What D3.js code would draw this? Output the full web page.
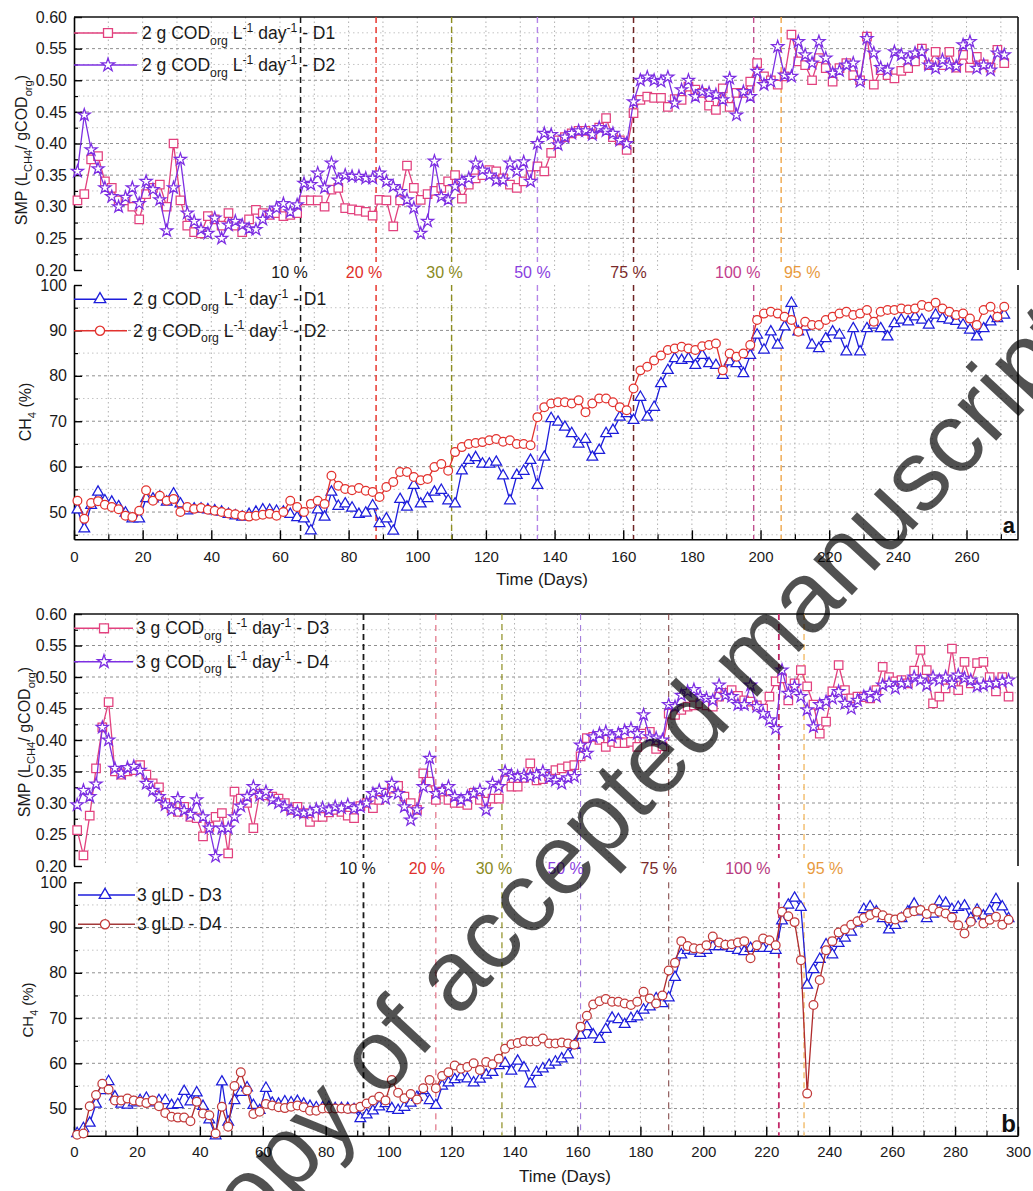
<!DOCTYPE html>
<html>
<head>
<meta charset="utf-8">
<script src="https://cdn.jsdelivr.net/npm/d3@7"></script>
<style>
  body { margin: 0; background: #fff; }
  svg { display: block; font-family: "Liberation Sans", Arial, sans-serif; }
  text { white-space: pre; }
</style>
</head>
<body>
<svg id="fig" width="1033" height="1191"></svg>
<script>
// ---------- data: reactors D1/D2 (2 g CODorg L-1 day-1) ----------
const daysA = [1,3,5,7,9,11,13,15,17,19,21,23,25,27,29,31,33,35,37,39,41,43,45,47,49,51,53,55,57,59,
  61,63,65,67,69,71,73,75,77,79,81,83,85,87,89,91,93,95,97,99,101,103,105,107,109,111,113,115,117,119,
  121,123,125,127,129,131,133,135,137,139,141,143,145,147,149,151,153,155,157,159,161,163,165,167,169,171,173,175,177,179,
  181,183,185,187,189,191,193,195,197,199,201,203,205,207,209,211,213,215,217,219,221,223,225,227,229,231,233,235,237,239,
  241,243,245,247,249,251,253,255,257,259,261,263,265,267,269,271];

const smpD1 = [0.31,0.32,0.375,0.38,0.34,0.33,0.31,0.31,0.30,0.28,
  0.32,0.33,0.335,0.30,0.40,0.31,0.27,0.26,0.258,0.285,
  0.28,0.27,0.29,0.27,0.26,0.28,0.295,0.29,0.287,0.29,
  0.285,0.287,0.29,0.31,0.31,0.31,0.30,0.327,0.33,0.298,
  0.296,0.294,0.292,0.286,0.311,0.31,0.269,0.31,0.365,0.33,
  0.311,0.32,0.325,0.33,0.34,0.35,0.313,0.335,0.345,0.35,
  0.358,0.356,0.345,0.335,0.33,0.34,0.35,0.364,0.356,0.385,
  0.405,0.41,0.416,0.42,0.42,0.415,0.425,0.44,0.41,0.405,
  0.39,0.448,0.469,0.474,0.472,0.472,0.458,0.47,0.469,0.49,
  0.485,0.48,0.46,0.453,0.487,0.458,0.48,0.48,0.498,0.527,
  0.506,0.50,0.493,0.506,0.572,0.53,0.524,0.50,0.535,0.519,
  0.498,0.519,0.527,0.508,0.50,0.569,0.493,0.516,0.508,0.503,
  0.515,0.519,0.53,0.55,0.524,0.545,0.524,0.545,0.52,0.54,
  0.52,0.537,0.525,0.52,0.548,0.527];

const smpD2 = [0.356,0.445,0.39,0.36,0.33,0.316,0.30,0.315,0.33,0.305,
  0.34,0.327,0.311,0.262,0.33,0.375,0.29,0.277,0.264,0.258,
  0.282,0.25,0.271,0.277,0.271,0.265,0.264,0.28,0.29,0.298,
  0.305,0.292,0.303,0.337,0.335,0.353,0.33,0.369,0.342,0.35,
  0.348,0.348,0.345,0.345,0.353,0.34,0.332,0.324,0.311,0.298,
  0.258,0.277,0.372,0.316,0.311,0.332,0.34,0.345,0.369,0.358,
  0.35,0.342,0.342,0.369,0.356,0.371,0.34,0.40,0.416,0.414,
  0.398,0.41,0.416,0.42,0.42,0.414,0.425,0.42,0.416,0.405,
  0.40,0.466,0.50,0.505,0.50,0.498,0.505,0.464,0.485,0.50,
  0.474,0.482,0.48,0.477,0.469,0.503,0.445,0.482,0.474,0.514,
  0.493,0.498,0.553,0.508,0.506,0.561,0.54,0.527,0.561,0.535,
  0.511,0.515,0.524,0.527,0.498,0.566,0.543,0.52,0.516,0.545,
  0.54,0.532,0.543,0.545,0.524,0.519,0.532,0.524,0.522,0.556,
  0.561,0.519,0.524,0.516,0.543,0.54];

const ch4D1 = [50.5,46.3,51.5,54.4,52.5,52.2,51.2,49.8,48.5,48.5,
  53,52.9,53.3,52.2,54,51.8,50.3,50.7,50.7,50.5,
  50.3,50,49.5,49.2,48.9,49.5,50,50.5,50.4,50.2,
  50,49.5,48.8,48.5,45.9,50.5,48.9,54.4,51.3,51.8,
  50.9,49.5,49.8,51.4,47.5,48.5,45.8,52.8,51.1,55.9,
  51.8,53,54.4,54.8,52.5,51.8,59.1,61.4,62,60.6,
  60.6,61,58,52.5,58.1,59,61.4,55.9,62.1,70.6,
  69.8,68.7,67.3,65,66,62.1,63.6,67.3,68,70.9,
  71.7,70.2,75.3,70.9,73.1,78.3,81.2,83.8,83.4,83.8,
  82.3,84.5,82.7,82.3,80.1,83.1,82.7,80.5,84.5,89,
  85.7,89.7,86.8,90.8,96,89.7,90.8,86.8,86,88.2,
  89.7,89,85.3,90.4,85.3,90.4,91.2,90.4,88.6,91.5,
  92.3,91.9,93,92.3,91.2,93.4,92.6,92.3,92,91.2,
  90.1,88.6,90.4,91.9,92.6,93.4];

const ch4D2 = [52.5,48.5,52,52.4,51.6,51.1,50.6,49.2,48.9,50.3,
  54.8,52.5,53.6,52.5,52.9,50,51.1,50.7,50.9,50.5,
  50.3,50,49.7,49.5,49.2,49,49.2,49.4,49.6,49.2,
  50,52.5,51.1,50,51.8,52.5,51.8,58,55.8,55.1,
  54.8,55.3,54.7,54.4,53.3,55.5,56.6,58.8,58.8,57.7,
  57,57.3,59.9,60.6,59.1,63.2,64.3,65,65.2,65.4,
  65.8,66.1,65.5,65.8,65,65,64.7,70.9,73.1,73.9,
  74.2,74.2,73.9,74.6,72,73.9,75,75,74.2,73.1,
  72.4,77.2,81.2,82,83.4,84.5,85.7,86,86.4,86,
  85.7,86.5,86.8,87.1,81.2,84.9,84.2,84.9,86.8,92.3,
  93.7,94.1,93.7,93,92.3,89.7,91.9,91.2,91.2,92.3,
  93,93.7,94.1,93.4,93.7,94.5,91.9,94.1,94.5,94.5,
  94.8,94.6,94.8,95.6,95.2,96.1,94.8,94.1,93.4,93.7,
  92.6,91.2,94.5,95.2,93,95.2];

// ---------- data: reactors D3/D4 (3 g CODorg L-1 day-1) ----------
const daysB = [1,3,5,7,9,11,13,15,17,19,21,23,25,27,29,31,33,35,37,39,41,43,45,47,49,51,53,55,57,59,
  61,63,65,67,69,71,73,75,77,79,81,83,85,87,89,91,93,95,97,99,101,103,105,107,109,111,113,115,117,119,
  121,123,125,127,129,131,133,135,137,139,141,143,145,147,149,151,153,155,157,159,161,163,165,167,169,171,173,175,177,179,
  181,183,185,187,189,191,193,195,197,199,201,203,205,207,209,211,213,215,217,219,221,223,225,227,229,231,233,235,237,239,
  241,243,245,247,249,251,253,255,257,259,261,263,265,267,269,271,273,275,277,279,281,283,285,287,289,291,293,295,297];

const smpD3 = [0.257,0.217,0.28,0.355,0.42,0.46,0.35,0.345,0.35,0.352,
  0.36,0.345,0.331,0.325,0.30,0.292,0.286,0.294,0.278,0.276,
  0.247,0.262,0.278,0.284,0.22,0.318,0.307,0.30,0.26,0.315,
  0.312,0.31,0.307,0.30,0.289,0.294,0.284,0.27,0.278,0.278,
  0.285,0.289,0.286,0.28,0.276,0.295,0.30,0.292,0.305,0.315,
  0.323,0.327,0.31,0.30,0.289,0.347,0.334,0.305,0.318,0.305,
  0.30,0.30,0.297,0.316,0.305,0.302,0.307,0.307,0.336,0.326,
  0.326,0.34,0.363,0.336,0.338,0.342,0.352,0.355,0.358,0.36,
  0.374,0.403,0.405,0.40,0.389,0.397,0.395,0.395,0.397,0.389,
  0.41,0.413,0.386,0.39,0.442,0.44,0.448,0.453,0.455,0.458,
  0.455,0.453,0.469,0.475,0.479,0.47,0.463,0.461,0.455,0.45,
  0.469,0.493,0.498,0.463,0.49,0.511,0.485,0.456,0.41,0.429,
  0.477,0.519,0.479,0.466,0.469,0.468,0.466,0.479,0.516,0.50,
  0.493,0.495,0.49,0.51,0.543,0.511,0.458,0.469,0.482,0.545,
  0.479,0.524,0.49,0.522,0.524,0.50,0.477,0.50,0.469];

const smpD4 = [0.297,0.32,0.31,0.33,0.42,0.40,0.355,0.347,0.356,0.358,
  0.352,0.331,0.32,0.31,0.297,0.289,0.307,0.288,0.282,0.305,
  0.278,0.26,0.215,0.26,0.26,0.278,0.295,0.31,0.326,0.312,
  0.318,0.305,0.30,0.294,0.289,0.286,0.284,0.286,0.29,0.292,
  0.289,0.294,0.292,0.297,0.291,0.294,0.30,0.315,0.32,0.307,
  0.331,0.315,0.294,0.273,0.289,0.326,0.371,0.315,0.32,0.326,
  0.31,0.305,0.31,0.315,0.32,0.289,0.331,0.326,0.35,0.344,
  0.342,0.344,0.342,0.345,0.35,0.34,0.336,0.331,0.34,0.342,
  0.392,0.379,0.405,0.41,0.413,0.405,0.41,0.415,0.418,0.41,
  0.44,0.405,0.403,0.40,0.456,0.453,0.471,0.477,0.48,0.469,
  0.466,0.463,0.487,0.471,0.469,0.456,0.456,0.487,0.453,0.442,
  0.432,0.418,0.511,0.474,0.485,0.469,0.448,0.421,0.456,0.461,
  0.466,0.477,0.458,0.45,0.463,0.469,0.474,0.469,0.487,0.49,
  0.482,0.49,0.49,0.50,0.495,0.487,0.50,0.495,0.50,0.49,
  0.503,0.498,0.495,0.485,0.487,0.49,0.49,0.493,0.495];

const ch4D3 = [44.5,45.6,46.8,51,54,56,52.6,51,50.8,51.3,
  51.8,52.3,51.3,51.8,51.8,50.7,50.9,53.8,51.5,53.5,
  50.5,47.5,44,55.9,47,51.8,53.6,54.6,50.7,49.6,
  54.5,51.2,51,51.5,51.3,51.6,51,50.5,50.2,50.2,
  50.3,50,50,50,49.8,47.8,48.6,49.5,50.4,51.1,
  50,49.6,50.3,51.2,52.5,54,51.8,50.7,55,55.7,
  56.4,57,56.6,55.7,56.5,57.4,58,59.5,60,58.3,
  60.5,59,55.5,58,58.8,59.6,60.3,61,61.9,64,
  66.2,68.1,66.3,65.3,67.5,70,69.7,68.6,69.9,70.3,
  71.8,72.5,74.3,73.2,74.5,79,84,85,84.8,84.3,
  85,85.8,85.8,85.8,85.4,85,84.7,85.4,85.4,85.4,
  85.4,85,91.5,95,96.5,94.5,77.3,80.7,83,86.2,
  84,86.5,87.7,89,91,94,94.6,93.5,92,89.5,
  90.5,92,93.5,95.2,93.5,92,93,95.7,95.4,94,
  94.5,94.8,92,93.9,92.6,93.7,96.2,94.6,92];

const ch4D4 = [44.2,44.5,50.5,53,55.5,54.2,51.8,51.8,52.2,51.8,
  51.5,51.2,51.8,50.5,49,48.2,48,48,47.2,51.5,
  48.9,48.5,44.5,50.4,46,55,58,54,48.8,49.3,
  51,50.7,50.3,50.1,50.4,50.7,50.3,49.5,49.5,50,
  50,50,50,49.9,50,50.4,51.1,51.8,52.6,51.8,
  56.3,53.5,52.3,53.2,52,54.5,56.3,54.5,57.2,58,
  59.5,58.8,59.2,60,58.5,60.3,59.8,61,63.2,64.2,
  64.5,64.9,64.8,64.8,65.5,64.4,64.4,64.6,64.4,64.1,
  68.1,70.5,73,73.7,74.2,73.6,73.6,73.2,72.9,73.6,
  75.8,74.3,73.2,75,80.5,82.2,87,85.9,85.4,85.3,
  86.1,88,86.7,86.2,86.3,86.7,87,83.2,86.1,87.6,
  87.2,86.1,93.5,92.5,91.2,82.8,53.3,72.9,78.4,85,
  87,88.9,89.6,90.6,91.4,92.1,92.8,93.3,92.7,92,
  91.8,92.3,93.2,93.6,93.9,93,94.2,93.5,93.1,92.2,
  90.5,88.7,91.3,93.5,90.9,91.7,92.4,90.6,91.7];

// ---------- phase changes (fraction of landfill leachate) ----------
const phaseLabels = ["10 %","20 %","30 %","50 %","75 %","100 %","95 %"];
const phaseDaysA = [66, 88, 110, 135, 163, 198, 206];
const phaseDaysB = [92, 115, 136, 161, 189, 224, 232];

// ---------- axis ticks ----------
const smpTicks = [0.20,0.25,0.30,0.35,0.40,0.45,0.50,0.55,0.60];
const ch4Ticks = [50,60,70,80,90,100];
const dayTicksA = [0,20,40,60,80,100,120,140,160,180,200,220,240,260];
const dayTicksB = [0,20,40,60,80,100,120,140,160,180,200,220,240,260,280,300];

// ---------- styling ----------
const X0 = 74, X1 = 1018;
const C = {
  pink: "#e2417e", purple: "#7d2fe2", blue: "#1d1ddb", red: "#e2322e",
  brownRed: "#c23a3a", brownLine: "#b02c2c"
};
const phaseLineA = ["#1a1a1a","#e8372f","#8e8e20","#b585e8","#6e2424","#c0508f","#efa64a"];
const phaseTextA = ["#1a1a1a","#df2f2a","#8a8a22","#8a40e0","#7a2a2a","#c23d8e","#e89a40"];
const phaseLineB = ["#1a1a1a","#d9526a","#8e8e20","#9a70d8","#7a3a3a","#c22868","#efb050"];
const phaseTextB = ["#1a1a1a","#e0302c","#8a8a22","#8a40e0","#7a2a2a","#b83a80","#e89a40"];

const svg = d3.select("#fig");

function rich(sel, parts, size) {
  let shift = 0;
  parts.forEach(([t, k]) => {
    const target = k === "sub" ? size * 0.32 : k === "sup" ? -size * 0.42 : 0;
    sel.append("tspan")
      .attr("dy", target - shift)
      .attr("font-size", k === "n" ? size : size * 0.7)
      .text(t);
    shift = target;
  });
}

function frame(o) {
  const x = d3.scaleLinear().domain([0, o.xMax]).range([X0, X1]);
  const y = d3.scaleLinear().domain(o.yDom).range([o.bottom, o.top]);
  const g = svg.append("g");

  // grid
  const grid = g.append("g");
  grid.selectAll(".hmaj").data(o.gridMajor).join("line")
    .attr("x1", X0).attr("x2", X1).attr("y1", d => y(d)).attr("y2", d => y(d))
    .attr("stroke", "#8f8f8f").attr("stroke-width", 1).attr("stroke-dasharray", "3,3");
  grid.selectAll(".hmin").data(o.gridMinor).join("line")
    .attr("x1", X0).attr("x2", X1).attr("y1", d => y(d)).attr("y2", d => y(d))
    .attr("stroke", "#c4c4c4").attr("stroke-width", 1).attr("stroke-dasharray", "1.5,3");
  grid.selectAll(".v").data(o.vGrid).join("line")
    .attr("x1", d => x(d)).attr("x2", d => x(d)).attr("y1", o.top).attr("y2", o.bottom)
    .attr("stroke", "#b0b0b0").attr("stroke-width", 1).attr("stroke-dasharray", "1.5,3");

  // left axis
  const la = g.append("g").attr("transform", `translate(${X0},0)`)
    .call(d3.axisLeft(y).tickValues(o.yTicks).tickFormat(o.fmt)
      .tickSize(-8).tickSizeOuter(0).tickPadding(7));
  la.attr("font-family", null).attr("font-size", 16);
  la.select(".domain").attr("stroke-width", 1.6);
  la.selectAll(".tick line").attr("stroke-width", 1.4);
  la.selectAll("text").attr("fill", "#1a1a1a");
  g.append("g").attr("transform", `translate(${X0},0)`)
    .call(d3.axisLeft(y).tickValues(o.yMinor).tickFormat("").tickSize(-4).tickSizeOuter(0))
    .call(s => s.select(".domain").remove())
    .selectAll("line").attr("stroke-width", 1.2);

  // right border
  g.append("line").attr("x1", X1).attr("x2", X1).attr("y1", o.top).attr("y2", o.bottom)
    .attr("stroke", "#111").attr("stroke-width", 1.6);

  if (o.topLine) {
    g.append("line").attr("x1", X0).attr("x2", X1).attr("y1", o.top).attr("y2", o.top)
      .attr("stroke", "#111").attr("stroke-width", 1.6);
  }
  if (o.xTicks) {
    const ba = g.append("g").attr("transform", `translate(0,${o.bottom})`)
      .call(d3.axisBottom(x).tickValues(o.xTicks).tickSize(-9).tickSizeOuter(0).tickPadding(o.xPad));
    ba.attr("font-family", null).attr("font-size", 15);
    ba.select(".domain").attr("stroke-width", 1.6);
    ba.selectAll(".tick line").attr("stroke-width", 1.4);
    ba.selectAll("text").attr("fill", "#1a1a1a");
    g.append("g").attr("transform", `translate(0,${o.bottom})`)
      .call(d3.axisBottom(x).tickValues(o.xMinor).tickFormat("").tickSize(-5).tickSizeOuter(0))
      .call(s => s.select(".domain").remove())
      .selectAll("line").attr("stroke-width", 1.2);
  }
  return { x, y, g, top: o.top, bottom: o.bottom };
}

function phases(fr, days, colors, widths, dashes, yEnd) {
  fr.g.append("g").selectAll("line").data(days).join("line")
    .attr("x1", d => fr.x(d)).attr("x2", d => fr.x(d))
    .attr("y1", fr.top).attr("y2", yEnd)
    .attr("stroke", (d, i) => colors[i])
    .attr("stroke-width", (d, i) => widths[i])
    .attr("stroke-dasharray", (d, i) => dashes[i]);
}

function phaseLabelsDraw(fr, days, colors, dx, yBase) {
  fr.g.append("g").selectAll("text").data(days).join("text")
    .attr("x", (d, i) => fr.x(d) + dx[i]).attr("y", yBase)
    .attr("text-anchor", "middle").attr("font-size", 16)
    .attr("fill", (d, i) => colors[i])
    .text((d, i) => phaseLabels[i]);
}

function series(fr, days, vals, stroke, lineColor, sym, size) {
  const pts = days.map((d, i) => [d, vals[i]]);
  fr.g.append("path").datum(pts)
    .attr("d", d3.line().x(p => fr.x(p[0])).y(p => fr.y(p[1])))
    .attr("fill", "none").attr("stroke", lineColor).attr("stroke-width", 1.3);
  fr.g.append("g").selectAll("path").data(pts).join("path")
    .attr("transform", p => `translate(${fr.x(p[0])},${fr.y(p[1])})`)
    .attr("d", d3.symbol(sym, size)())
    .attr("fill", "#fff").attr("stroke", stroke).attr("stroke-width", 1.25);
}

function legendRow(fr, yc, xa, xb, xm, stroke, lineColor, sym, size, tx, parts, fs) {
  fr.g.append("line").attr("x1", xa).attr("x2", xb).attr("y1", yc).attr("y2", yc)
    .attr("stroke", lineColor).attr("stroke-width", 1.6);
  fr.g.append("path").attr("transform", `translate(${xm},${yc})`)
    .attr("d", d3.symbol(sym, size)()).attr("fill", "#fff")
    .attr("stroke", stroke).attr("stroke-width", 1.3);
  const t = fr.g.append("text").attr("x", tx).attr("y", yc + 6).attr("font-size", fs).attr("fill", "#1a1a1a");
  rich(t, parts, fs);
}

function yTitle(x, y, parts, fs) {
  const t = svg.append("text").attr("transform", `translate(${x},${y}) rotate(-90)`)
    .attr("text-anchor", "middle").attr("font-size", fs).attr("fill", "#1a1a1a");
  rich(t, parts, fs);
}

const smpFmt = d3.format(".2f");
const smpGridMajor = [0.25,0.30,0.35,0.40,0.45,0.50,0.55];
const smpGridMinor = [0.225,0.275,0.325,0.375,0.425,0.475,0.525,0.575];
const ch4GridMajor = [50,60,70,80,90];
const ch4GridMinor = [45,55,65,75,85,95];
const codParts = d => [["2 g COD","n"],["org","sub"],[" L","n"],["-1","sup"],[" day","n"],["-1","sup"],[" - " + d,"n"]];
const codParts3 = d => [["3 g COD","n"],["org","sub"],[" L","n"],["-1","sup"],[" day","n"],["-1","sup"],[" - " + d,"n"]];
const smpTitle = [["SMP (L","n"],["CH4","sub"],["/ gCOD","n"],["org","sub"],[")","n"]];
const ch4Title = [["CH","n"],["4","sub"],[" (%)","n"]];

const SQ = 72, ST = 46, TR = 50, CI = 60;
const LEG = 17.5;

// ================= panel a =================
const vA = [10,20,30,40,50,60,70,80,90,100,110,120,130,140,150,160,170,180,190,200,210,220,230,240,250,260,270];
const aS = frame({ top: 17, bottom: 270, xMax: 275, yDom: [0.2, 0.6], yTicks: smpTicks, fmt: smpFmt,
  yMinor: smpGridMinor, gridMajor: smpGridMajor, gridMinor: smpGridMinor, vGrid: vA, topLine: true });
phases(aS, phaseDaysA, phaseLineA, [1.5,1.5,1.4,1.4,1.5,1.4,1.4], ["6,4","6,4","6,4","6,4","6,4","6,4","6,4"], 262);
series(aS, daysA, smpD1, C.pink, C.pink, d3.symbolSquare, SQ);
series(aS, daysA, smpD2, C.purple, C.purple, d3.symbolStar, ST);
legendRow(aS, 33, 74, 137, 108, C.pink, C.pink, d3.symbolSquare, 80, 142, codParts("D1"), LEG);
legendRow(aS, 65, 74, 137, 108, C.purple, C.purple, d3.symbolStar, 55, 142, codParts("D2"), LEG);
phaseLabelsDraw(aS, phaseDaysA, phaseTextA, [-11,-12,-7,-5,-5,-16,21], 278);

const aC = frame({ top: 285, bottom: 539.3, xMax: 275, yDom: [44, 100], yTicks: ch4Ticks, fmt: d3.format("d"),
  yMinor: ch4GridMinor, gridMajor: ch4GridMajor, gridMinor: ch4GridMinor, vGrid: vA, topLine: false,
  xTicks: dayTicksA, xMinor: [10,30,50,70,90,110,130,150,170,190,210,230,250,270], xPad: 12 });
phases(aC, phaseDaysA, phaseLineA, [1.5,1.5,1.4,1.4,1.5,1.4,1.4], ["6,4","6,4","6,4","6,4","6,4","6,4","6,4"], 539.3);
series(aC, daysA, ch4D1, C.blue, C.blue, d3.symbolTriangle, TR);
series(aC, daysA, ch4D2, C.red, C.red, d3.symbolCircle, CI);
legendRow(aC, 299.3, 74, 127, 100, C.blue, C.blue, d3.symbolTriangle, 58, 133, codParts("D1"), LEG);
legendRow(aC, 330.7, 74, 127, 100, C.red, C.red, d3.symbolCircle, 66, 133, codParts("D2"), LEG);
svg.append("text").attr("x", 1015).attr("y", 533).attr("text-anchor", "end")
  .attr("font-size", 22).attr("font-weight", "bold").attr("fill", "#111").text("a");
svg.append("text").attr("x", 542).attr("y", 585).attr("text-anchor", "middle")
  .attr("font-size", 17).attr("fill", "#1a1a1a").text("Time (Days)");
yTitle(27, 150, smpTitle, 16);
yTitle(31, 412, ch4Title, 16);

// ================= panel b =================
const vB = [10,20,30,40,50,60,70,80,90,100,110,120,130,140,150,160,170,180,190,200,210,220,230,240,250,260,270,280,290];
const bS = frame({ top: 614, bottom: 866, xMax: 300, yDom: [0.2, 0.6], yTicks: smpTicks, fmt: smpFmt,
  yMinor: smpGridMinor, gridMajor: smpGridMajor, gridMinor: smpGridMinor, vGrid: vB, topLine: true });
phases(bS, phaseDaysB, phaseLineB, [1.8,1,1.2,1,1,1.8,1.2], ["6,4","6,5","6,4","6,5","6,5","6,4","6,4"], 858);
series(bS, daysB, smpD3, C.pink, C.pink, d3.symbolSquare, SQ);
series(bS, daysB, smpD4, C.purple, C.purple, d3.symbolStar, ST);
legendRow(bS, 628.3, 74, 133, 104, C.pink, C.pink, d3.symbolSquare, 80, 136, codParts3("D3"), LEG);
legendRow(bS, 661.7, 74, 133, 104, C.purple, C.purple, d3.symbolStar, 55, 136, codParts3("D4"), LEG);
phaseLabelsDraw(bS, phaseDaysB, phaseTextB, [-6,-9,-8,-15,-10,-31,21], 874);

const bC = frame({ top: 882.3, bottom: 1135.7, xMax: 300, yDom: [44, 100], yTicks: ch4Ticks, fmt: d3.format("d"),
  yMinor: ch4GridMinor, gridMajor: ch4GridMajor, gridMinor: ch4GridMinor, vGrid: vB, topLine: false,
  xTicks: dayTicksB, xMinor: [10,30,50,70,90,110,130,150,170,190,210,230,250,270,290], xPad: 11 });
phases(bC, phaseDaysB, phaseLineB, [1.8,1,1.2,1,1,1.8,1.2], ["6,4","6,5","6,4","6,5","6,5","6,4","6,4"], 1135.7);
series(bC, daysB, ch4D3, C.blue, C.blue, d3.symbolTriangle, TR);
series(bC, daysB, ch4D4, C.brownRed, C.brownLine, d3.symbolCircle, CI);
legendRow(bC, 895, 78, 135, 105, C.blue, C.blue, d3.symbolTriangle, 58, 137, [["3 gLD - D3","n"]], LEG);
legendRow(bC, 924.3, 78, 135, 105, C.brownRed, "#a33a3a", d3.symbolCircle, 66, 137, [["3 gLD - D4","n"]], LEG);
svg.append("text").attr("x", 1016).attr("y", 1132).attr("text-anchor", "end")
  .attr("font-size", 24).attr("font-weight", "bold").attr("fill", "#111").text("b");
svg.append("text").attr("x", 565).attr("y", 1182).attr("text-anchor", "middle")
  .attr("font-size", 17).attr("fill", "#1a1a1a").text("Time (Days)");
yTitle(30, 742, smpTitle, 16);
yTitle(33, 1010, ch4Title, 15);

// ---------- diagonal stamp across the figure ----------
svg.append("text")
  .attr("transform", "translate(218,1275) rotate(-47)")
  .attr("font-size", 100).attr("fill", "#000").attr("opacity", 0.68)
  .text("copy of accepted manuscript");
</script>
</body>
</html>
